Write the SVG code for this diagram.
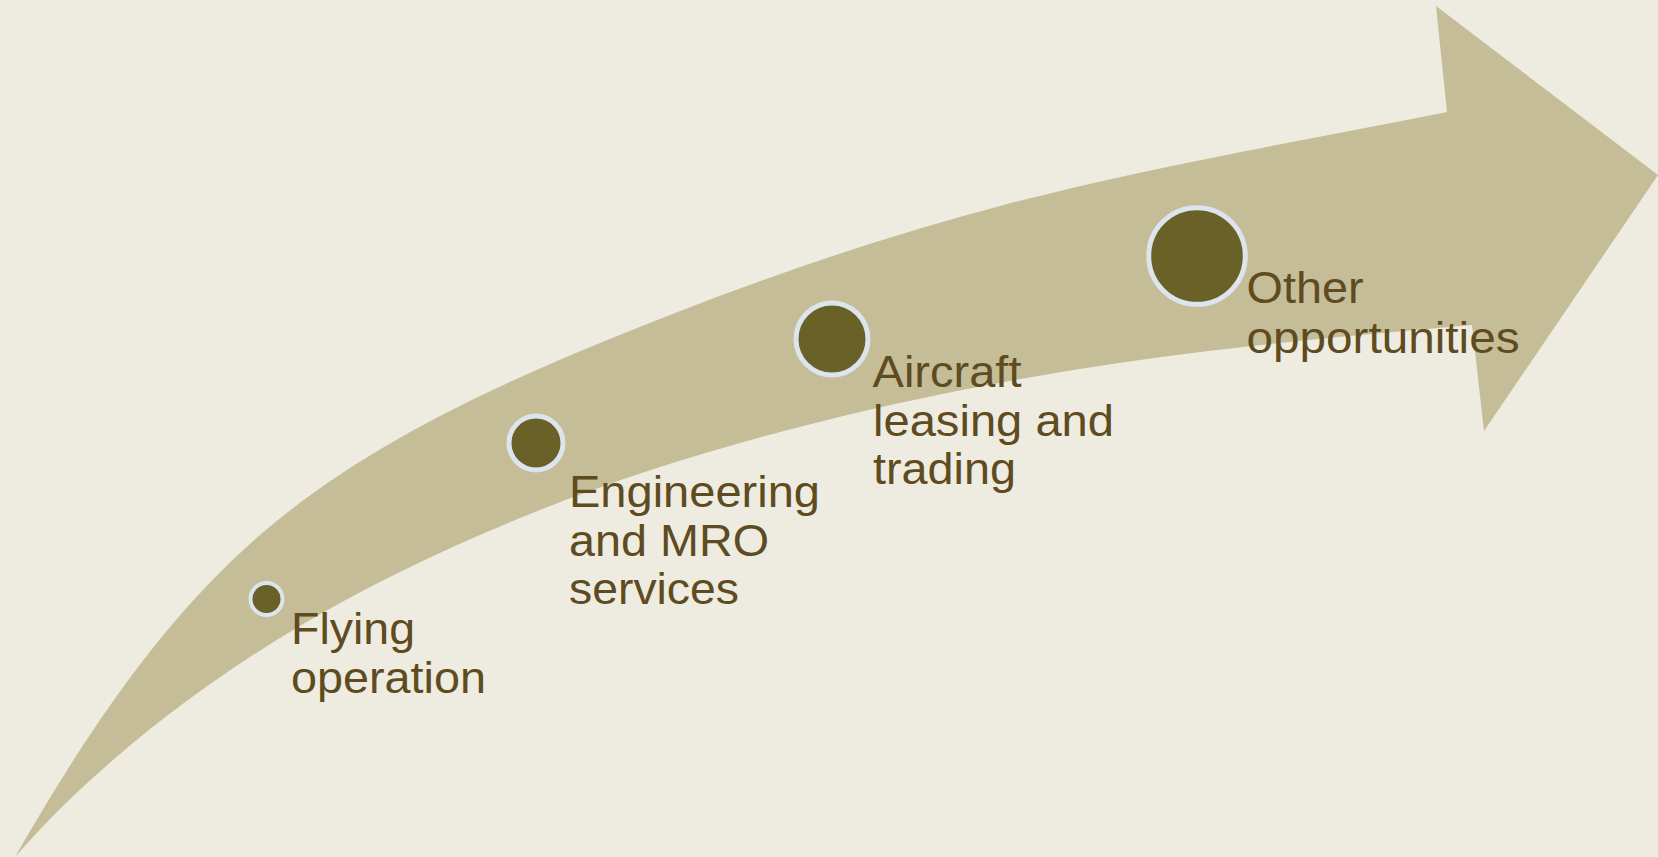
<svg xmlns="http://www.w3.org/2000/svg" width="1658" height="857" viewBox="0 0 1658 857">
<style>
.bg{fill:#EEEBE0}
.band{fill:#C5BD97}
.dot{fill:#6A6128;stroke:#DCE4EE}
.lbl{font-family:"Liberation Sans",Arial,sans-serif;font-size:45px;fill:#5E4B1F}
</style>
<rect class="bg" x="0" y="0" width="1658" height="857"/>
<g id="arrow">
<path class="band" d="M15,857 C82.4,740.2 158,623.2 260,535 C358.5,449.8 479.6,392.6 600,343 C730.3,289.4 863.8,241.9 1000,206 C1147.3,167.1 1297.7,141.8 1447,112 L1436,6 L1658,175 L1484,431 L1472,325 C1361.1,334.7 1250.2,344.5 1140,360 C1018.8,377 898.3,400.7 780,432 C691.7,455.3 604.5,483.4 520,518 C441.9,550 365.3,586.5 293,630 C229.6,668.2 169,711.6 113,760 C78.2,790.1 45.2,822.3 15,857 Z"/>
</g>
<g id="node-flying">
<circle class="dot" cx="266.5" cy="599" r="16" stroke-width="4"/>
<text class="lbl"><tspan x="291" y="644" textLength="124" lengthAdjust="spacingAndGlyphs">Flying</tspan><tspan x="291" y="693" textLength="195" lengthAdjust="spacingAndGlyphs">operation</tspan></text>
</g>
<g id="node-engineering">
<circle class="dot" cx="536" cy="443" r="27" stroke-width="5"/>
<text class="lbl"><tspan x="569" y="507" textLength="251" lengthAdjust="spacingAndGlyphs">Engineering</tspan><tspan x="569" y="556" textLength="200" lengthAdjust="spacingAndGlyphs">and MRO</tspan><tspan x="569" y="604" textLength="170" lengthAdjust="spacingAndGlyphs">services</tspan></text>
</g>
<g id="node-aircraft">
<circle class="dot" cx="832" cy="339" r="36" stroke-width="5"/>
<text class="lbl"><tspan x="872.5" y="387" textLength="149" lengthAdjust="spacingAndGlyphs">Aircraft</tspan><tspan x="873" y="436" textLength="241" lengthAdjust="spacingAndGlyphs">leasing and</tspan><tspan x="873" y="484" textLength="143" lengthAdjust="spacingAndGlyphs">trading</tspan></text>
</g>
<g id="node-other">
<circle class="dot" cx="1197" cy="256" r="48.3" stroke-width="5"/>
<text class="lbl"><tspan x="1246.5" y="303" textLength="117" lengthAdjust="spacingAndGlyphs">Other</tspan><tspan x="1246.5" y="352.5" textLength="273" lengthAdjust="spacingAndGlyphs">opportunities</tspan></text>
</g>
<g id="connectors"/>
</svg>
